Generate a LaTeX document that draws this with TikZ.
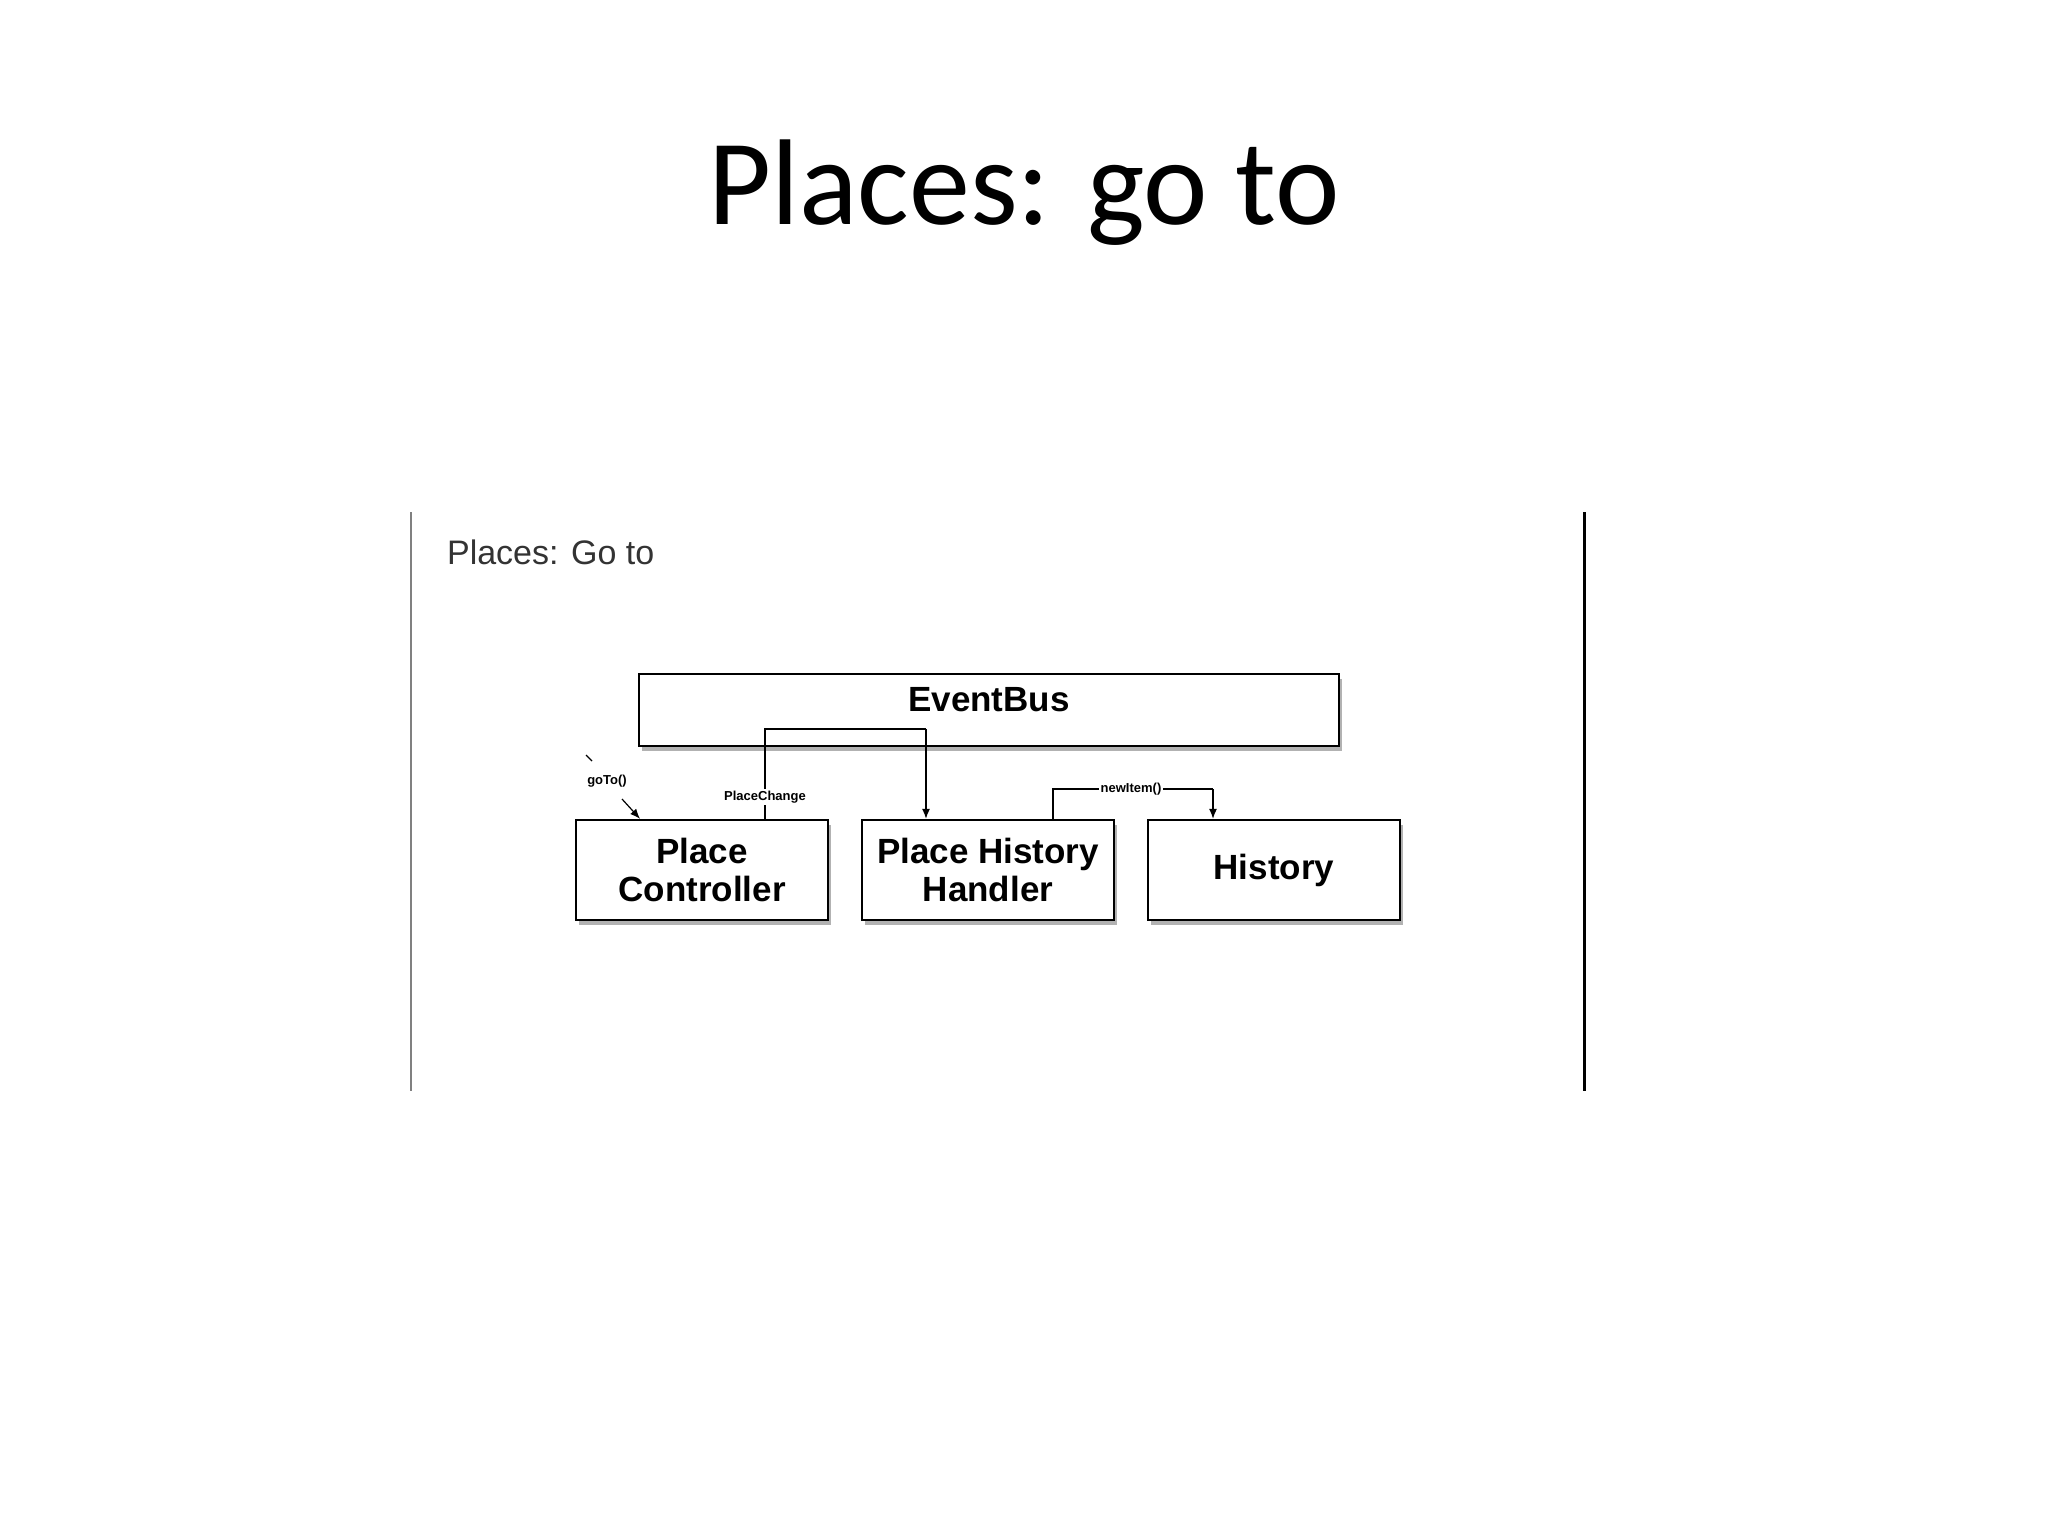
\documentclass[tikz,border=0pt]{standalone}
\usepackage{fontspec}
\setmainfont{Carlito}
\newfontfamily\diagfont{Liberation Sans}
\usetikzlibrary{shadows,arrows.meta}
\tikzset{
  box/.style={draw, line width=1.2pt, fill=white, drop shadow={shadow xshift=1.5pt, shadow yshift=-2.5pt, fill=gray!80!black},
    font=\diagfont\bfseries\fontsize{17.5}{19}\selectfont, align=center, inner sep=0pt},
  tinylabel/.style={font=\diagfont\bfseries\fontsize{6.5}{7}\selectfont, fill=white, inner sep=1pt},
  conn/.style={line width=0.6pt, -{Latex[length=5pt,width=4pt]}}
}
\begin{document}
\begin{tikzpicture}[x=0.5pt,y=-0.5pt]
\useasboundingbox (0,0) rectangle (2048,1536);
% slide title
\node[font=\fontsize{61}{66}\selectfont] (title) at (1024,193) {Places: go to};
% the pasted screenshot frame
\draw[gray, line width=0.6pt] (411,512) -- (411,1091);
\draw[line width=1.5pt] (1584,512) -- (1584,1091);
\node[anchor=west, font=\diagfont\fontsize{17}{19}\selectfont, text=black!80] (sub) at (440,552) {Places: Go to};
% boxes
\node[box, minimum width=350pt, minimum height=36pt] (bus) at (989,710) {};
\node[font=\diagfont\bfseries\fontsize{17.5}{19}\selectfont] (buslab) at (989,700) {EventBus};
\node[box, minimum width=126pt, minimum height=50pt] (pc) at (702,870) {Place\\Controller};
\node[box, minimum width=126pt, minimum height=50pt] (phh) at (988,870) {Place History\\Handler};
\node[box, minimum width=126pt, minimum height=50pt] (hist) at (1274,870) {History};
% PlaceChange through the bus
\coordinate (pcup) at (765,729);
\coordinate (pcdn) at (926,729);
\draw[line width=0.6pt] (pcup |- pc.north) -- (pcup) -- (pcdn);
\draw[conn] (pcdn) -- (pcdn |- phh.north);
\node[tinylabel] (pclab) at (765,797) {PlaceChange};
% newItem()
\coordinate (niup) at (1053,789);
\coordinate (nidn) at (1213,789);
\draw[line width=0.6pt] (niup |- phh.north) -- (niup) -- (nidn);
\draw[conn] (nidn) -- (nidn |- hist.north);
\node[tinylabel] (nilab) at (1131,789) {newItem()};
% goTo()
\draw[line width=0.6pt] (586,755) -- (592,761);
\node[tinylabel] (golab) at (607,781) {goTo()};
\coordinate (gofrom) at (622,799);
\coordinate (goto) at (640,0);
\draw[conn] (gofrom) -- (goto |- pc.north);
\end{tikzpicture}
\end{document}
